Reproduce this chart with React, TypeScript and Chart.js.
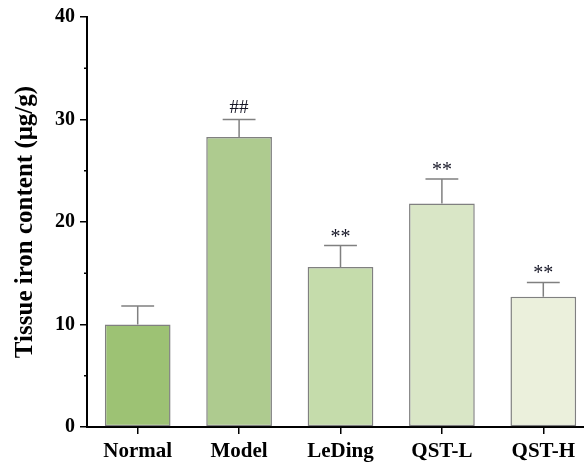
import React, { useEffect, useRef } from "react";
import { Chart, registerables } from "chart.js";

Chart.register(...registerables);

const categories = ["Normal", "Model", "LeDing", "QST-L", "QST-H"];
const means = [10.0, 28.3, 15.6, 21.8, 12.7];
const sems = [1.8, 1.7, 2.1, 2.4, 1.4];
const marks = ["", "##", "**", "**", "**"];
const barColors = ["#9dc274", "#aecb8f", "#c5dcab", "#d9e6c6", "#ebf0dc"];
const yTicks = [0, 10, 20, 30, 40];
const yMinorTicks = [5, 15, 25, 35];

const FONT = "'Liberation Serif', 'Times New Roman', serif";

const extras = {
  id: "extras",
  afterDatasetsDraw(chart: any) {
    const ctx = chart.ctx;
    const yScale = chart.scales.y;
    const meta = chart.getDatasetMeta(0);
    ctx.save();
    // error bars
    meta.data.forEach((bar: any, i: number) => {
      const x = bar.x;
      const yTop = yScale.getPixelForValue(means[i]);
      const yCap = yScale.getPixelForValue(means[i] + sems[i]);
      const half = bar.width * 0.25;
      ctx.strokeStyle = "#808080";
      ctx.lineWidth = 1.5;
      ctx.beginPath();
      ctx.moveTo(x, yTop);
      ctx.lineTo(x, yCap);
      ctx.moveTo(x - half, yCap);
      ctx.lineTo(x + half, yCap);
      ctx.stroke();
      const t = marks[i];
      if (t) {
        ctx.fillStyle = "#151525";
        ctx.font = `${t === "##" ? 19 : 20}px ${FONT}`;
        ctx.textAlign = "center";
        ctx.textBaseline = "alphabetic";
        const m = ctx.measureText(t);
        const target = yCap - 13;
        const yb = target + (m.actualBoundingBoxAscent - m.actualBoundingBoxDescent) / 2;
        ctx.fillText(t, x, yb);
      }
    });
    // minor ticks on y axis
    const left = chart.chartArea.left;
    ctx.strokeStyle = "#000";
    ctx.lineWidth = 1.5;
    yMinorTicks.forEach((v) => {
      const y = yScale.getPixelForValue(v);
      ctx.beginPath();
      ctx.moveTo(left - 3, y);
      ctx.lineTo(left, y);
      ctx.stroke();
    });
    ctx.restore();
  },
};

export default function App() {
  const ref = useRef<HTMLCanvasElement | null>(null);
  useEffect(() => {
    document.body.style.margin = "0";
    const canvas = ref.current!;
    const chart = new Chart(canvas, {
      type: "bar",
      data: {
        labels: categories,
        datasets: [
          {
            data: means,
            backgroundColor: barColors,
            borderColor: "#808080",
            borderWidth: 1.5,
            borderSkipped: false,
            categoryPercentage: 1,
            barPercentage: 0.648,
          },
        ],
      },
      options: {
        responsive: false,
        animation: false,
        devicePixelRatio: 1,
        layout: { padding: { top: 17, right: 6, left: 0, bottom: 0 } },
        plugins: { legend: { display: false }, tooltip: { enabled: false } },
        scales: {
          x: {
            offset: true,
            grid: {
              offset: false,
              drawOnChartArea: false,
              drawTicks: true,
              tickLength: 7,
              color: "#000",
              lineWidth: 1.5,
            },
            border: { display: true, color: "#000", width: 2 },
            ticks: {
              color: "#000",
              padding: 5,
              font: { family: FONT, size: 21, weight: "bold" },
              maxRotation: 0,
              autoSkip: false,
            },
            afterFit(scale: any) {
              scale.height = 37;
            },
          },
          y: {
            min: 0,
            max: 40,
            afterBuildTicks(scale: any) {
              scale.ticks = yTicks.map((v) => ({ value: v }));
            },
            grid: {
              drawOnChartArea: false,
              drawTicks: true,
              tickLength: 7,
              color: "#000",
              lineWidth: 1.5,
            },
            border: { display: true, color: "#000", width: 2 },
            ticks: {
              color: "#000",
              padding: 5,
              font: { family: FONT, size: 20, weight: "bold" },
            },
            title: {
              display: true,
              text: "Tissue iron content (μg/g)",
              color: "#000",
              font: { family: FONT, size: 25, weight: "bold" },
              padding: { top: 11, bottom: 0 },
            },
            afterFit(scale: any) {
              scale.width = 87;
            },
          },
        },
      },
      plugins: [extras],
    });
    return () => chart.destroy();
  }, []);
  return (
    <div style={{ width: 584, height: 464, overflow: "hidden", position: "relative", background: "#fff" }}>
      <canvas ref={ref} width={600} height={464} style={{ display: "block" }} />
    </div>
  );
}
